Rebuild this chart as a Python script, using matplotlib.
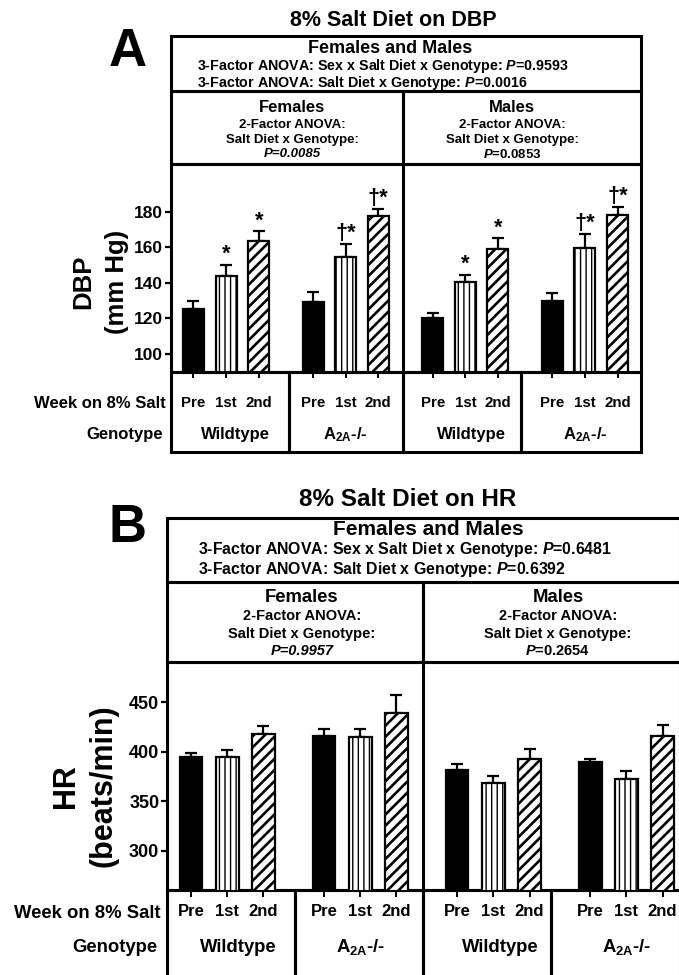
import numpy as np
import matplotlib
matplotlib.use("Agg")
import matplotlib.pyplot as plt
from matplotlib.patches import Rectangle
from matplotlib.transforms import blended_transform_factory

plt.rcParams['font.family'] = ['Liberation Sans', 'DejaVu Sans']
plt.rcParams['font.weight'] = 'bold'
plt.rcParams['mathtext.fontset'] = 'custom'
plt.rcParams['mathtext.rm'] = 'Liberation Sans:bold'
plt.rcParams['mathtext.it'] = 'Liberation Sans:italic:bold'
plt.rcParams['mathtext.bf'] = 'Liberation Sans:bold'
plt.rcParams['hatch.linewidth'] = 1.3

# data
weeks = ['Pre', '1st', '2nd']
genotypes = ['Wildtype', r'A$_{\mathrm{2A}}$-/-', 'Wildtype', r'A$_{\mathrm{2A}}$-/-']
sexes = ['Females', 'Males']

dbp_mean = [125.0, 143.8, 163.5, 129.4, 154.7, 177.5, 120.0, 140.3, 159.3, 129.7, 159.4, 178.0]
dbp_sem = [5.0, 6.2, 5.5, 5.4, 7.3, 4.2, 3.0, 4.1, 5.7, 4.6, 7.9, 4.5]
dbp_marks = ['', '*', '*', '', '†*', '†*', '', '*', '*', '', '†*', '†*']
dbp_p3 = ['0.9593', '0.0016']
dbp_p2 = ['0.0085', '0.0853']

hr_mean = [394.4, 394.7, 418.0, 416.3, 414.6, 439.2, 381.2, 368.8, 393.0, 389.3, 372.4, 416.0]
hr_sem = [4.6, 7.3, 8.0, 7.0, 8.7, 18.5, 6.1, 6.4, 9.8, 3.0, 8.5, 11.0]
hr_marks = [''] * 12
hr_p3 = ['0.6481', '0.6392']
hr_p2 = ['0.9957', '0.2654']
p2_italic = [True, False]

W, H = 679, 975
fig = plt.figure(figsize=(W / 100, H / 100), dpi=100)
cv = fig.add_axes([0, 0, 1, 1])
cv.set_xlim(0, W)
cv.set_ylim(H, 0)
cv.axis('off')

LW = 2.2


def box(x0, y0, x1, y1):
    cv.add_patch(Rectangle((x0, y0), x1 - x0, y1 - y0, fill=False, lw=LW,
                           edgecolor='black', joinstyle='miter'))


def draw_panel(g, title, letter, ylab, mean, sem, marks, ylim, yticks, p3, p2):
    s = g['fs']
    cv.text(g['title'][0], g['title'][1], title, ha='center', va='center', fontsize=g['title_fs'])
    cv.text(g['letter'][0], g['letter'][1], letter, ha='center', va='center', fontsize=38)

    # header boxes
    box(g['x0'], g['top'], g['x1'], g['row'])
    box(g['x0'], g['row'], g['div'], g['mid'])
    box(g['div'], g['row'], g['x1'], g['mid'])
    cv.text(g['hdr1'][0], g['hdr1'][1], 'Females and Males', ha='center', va='baseline',
            fontsize=g['hdr1_fs'])
    cv.text(g['hdr_left'], g['hdr2'], '3-Factor ANOVA: Sex x Salt Diet x Genotype: $P$=' + p3[0],
            ha='left', va='baseline', fontsize=10.3 * s)
    cv.text(g['hdr_left'], g['hdr3'], '3-Factor ANOVA: Salt Diet x Genotype: $P$=' + p3[1],
            ha='left', va='baseline', fontsize=10.3 * s)
    for k, sx in enumerate(sexes):
        xc = g['sex_x'][k]
        ys = g['sex_y']
        cv.text(xc, ys[0], sx, ha='center', va='center', fontsize=12 * s)
        cv.text(xc, ys[1], '2-Factor ANOVA:', ha='center', va='center', fontsize=9.5 * s)
        cv.text(xc, ys[2], 'Salt Diet x Genotype:', ha='center', va='center', fontsize=9.5 * s)
        if p2_italic[k]:
            cv.text(xc, ys[3], 'P=' + p2[k], ha='center', va='center', fontsize=9.5 * s, fontstyle='italic')
        else:
            cv.text(xc, ys[3], '$P$=' + p2[k], ha='center', va='center', fontsize=9.5 * s)

    # plot area
    box(g['x0'], g['mid'], g['x1'], g['base'])
    cv.plot([g['div'], g['div']], [g['mid'], g['base']], color='black', lw=LW)
    gb = g['gbox']
    for k in range(4):
        box(gb[k], g['base'], gb[k + 1], g['bot'])

    ax = fig.add_axes([g['x0'] / W, 1 - g['base'] / H, (g['ax1'] - g['x0']) / W,
                       (g['base'] - g['mid']) / H])
    ax.set_facecolor('none')
    for sp in ax.spines.values():
        sp.set_visible(False)
    pos = np.array([k * 3.67 + j for k in range(4) for j in range(3)])
    ax.set_xlim(-g['lpad'], pos[-1] + g['rpad'])
    ax.set_ylim(*ylim)
    mean = np.array(mean)
    sem = np.array(sem)
    ax.errorbar(pos, mean, yerr=[np.zeros(12), sem], fmt='none', ecolor='black',
                elinewidth=1.6, capsize=g['cap'], capthick=1.6, zorder=1)
    face = ['black', 'white', 'white']
    hatch = [None, '|||', '///']
    hatch_lw = [1.0, 1.0, 1.9]
    for j in range(3):
        bars = ax.bar(pos[j::3], mean[j::3], width=g['bw'], color=face[j], edgecolor='black',
                      hatch=hatch[j], linewidth=1.6, zorder=2)
        for b in bars:
            if hasattr(b, 'set_hatch_linewidth'):
                b.set_hatch_linewidth(hatch_lw[j])
    for x, m, e, t in zip(pos, mean, sem, marks):
        if t:
            ax.annotate(t, (x, m + e), xytext=(0, 0), textcoords='offset points',
                        ha='center', va='bottom', fontsize=15.5 * s)
    ax.set_yticks(yticks)
    ax.set_xticks(pos)
    ax.set_xticklabels([])
    ax.tick_params(axis='y', length=4, width=1.6, pad=1.5, labelsize=g['tick_fs'])
    ax.tick_params(axis='x', length=5, width=1.4)

    blend = blended_transform_factory(ax.transData, cv.transData)
    for k in range(4):
        for j in range(3):
            ax.text(pos[k * 3 + j], g['wk_y'], weeks[j], transform=blend, ha='center',
                    va='center', fontsize=10.8 * s)
        ax.text(pos[k * 3 + 1] + g['gt_dx'][k], g['gt_y'], genotypes[k], transform=blend,
                ha='center', va='center', fontsize=12 * s)
    cv.text(g['lab_r'], g['wk_y'] + 1, 'Week on 8% Salt', ha='right', va='center', fontsize=12 * s)
    cv.text(g['lab_r'] - 3, g['gt_y'], 'Genotype', ha='right', va='center', fontsize=12 * s)

    cv.text(g['ylab'][0], g['ylab'][2], ylab[0], rotation=90, ha='center', va='center',
            fontsize=g['ylab_fs'])
    cv.text(g['ylab'][1], g['ylab'][2], ylab[1], rotation=90, ha='center', va='center',
            fontsize=g['ylab_fs'])
    return ax


geo_a = dict(fs=1.0, title=(393, 20), title_fs=15.5, letter=(128, 52),
             x0=171, x1=641, ax1=641, top=36, row=91, mid=164, base=371.5, bot=452, div=403,
             gbox=[171, 289, 403, 521, 641],
             hdr1=(390, 53), hdr1_fs=13, hdr_left=197, hdr2=70, hdr3=87,
             sex_x=[292, 512], sex_y=[107, 125, 140, 154],
             lpad=0.69, rpad=0.72, bw=0.645, cap=4, tick_fs=12.5,
             wk_y=403, gt_y=435, gt_dx=[0.3, 0, 0.2, 0], lab_r=166,
             ylab=(83, 117, 282), ylab_fs=18.5)

geo_b = dict(fs=1.11, title=(408, 500), title_fs=17.5, letter=(127, 528),
             x0=167, x1=680, ax1=680, top=518, row=582, mid=662, base=890, bot=995, div=423,
             gbox=[167, 295, 423, 551, 680],
             hdr1=(428, 535), hdr1_fs=15, hdr_left=198, hdr2=554, hdr3=574,
             sex_x=[302, 558], sex_y=[597, 616, 634, 651],
             lpad=0.66, rpad=0.48, bw=0.63, cap=4.5, tick_fs=13,
             wk_y=912, gt_y=947, gt_dx=[0.3, 0, 0.2, 0], lab_r=160,
             ylab=(66, 104, 786), ylab_fs=22)

draw_panel(geo_a, '8% Salt Diet on DBP', 'A', ['DBP', '(mm Hg)'], dbp_mean, dbp_sem, dbp_marks,
           (90, 207), [100, 120, 140, 160, 180], dbp_p3, dbp_p2)
draw_panel(geo_b, '8% Salt Diet on HR', 'B', ['HR', '(beats/min)'], hr_mean, hr_sem, hr_marks,
           (260, 491), [300, 350, 400, 450], hr_p3, hr_p2)

fig.savefig('out.png', dpi=100)
